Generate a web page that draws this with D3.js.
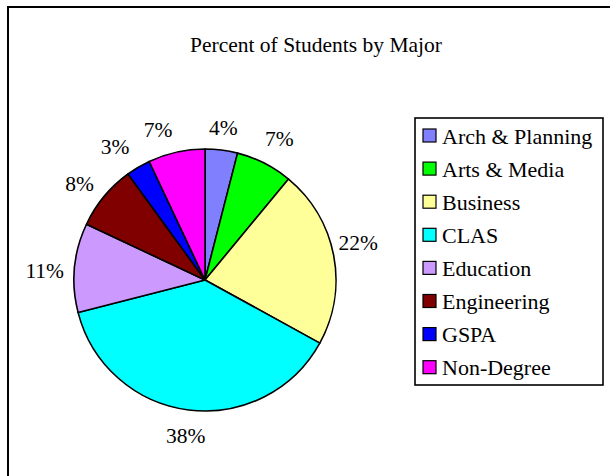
<!DOCTYPE html>
<html>
<head>
<meta charset="utf-8">
<script src="https://cdn.jsdelivr.net/npm/d3@7"></script>
<style>
  html, body { margin: 0; padding: 0; background: #fff; }
  svg { display: block; }
  svg text { font-family: "Liberation Serif", "Times New Roman", "DejaVu Serif", serif !important; }
</style>
</head>
<body>
<script>
const categories = ["Arch & Planning", "Arts & Media", "Business", "CLAS", "Education", "Engineering", "GSPA", "Non-Degree"];
const percents = [4, 7, 22, 38, 11, 8, 3, 7];
const colors = ["#8080FF", "#00FF00", "#FFFF99", "#00FFFF", "#CC99FF", "#800000", "#0000FF", "#FF00FF"];
const title = "Percent of Students by Major";

// layout constants
const W = 610, H = 476;
const cx = 205, cy = 280, R = 131, labelR = 155;
const labelNudge = [[-1, 1], [4, -3], [1, -8], [0, 2], [-6, 5], [-6, 2], [-11, 0], [-13, 1]];
const FONT = "'Liberation Serif', 'Times New Roman', 'DejaVu Serif', serif";

const svg = d3.select("body").append("svg").attr("width", W).attr("height", H);

function styleText(sel, size) {
  return sel.style("font-family", FONT, "important").style("font-size", size + "px").attr("fill", "#000");
}

// chart frame
svg.append("rect").attr("x", 8).attr("y", 7).attr("width", 700).attr("height", 600)
  .attr("fill", "#fff").attr("stroke", "#000").attr("stroke-width", 2);

// title
styleText(svg.append("text").attr("x", 316).attr("y", 52).attr("text-anchor", "middle"), 21.5).text(title);

const data = categories.map((c, i) => ({ name: c, value: percents[i], color: colors[i] }));
const pie = d3.pie().value(d => d.value).sort(null);
const arcs = pie(data);
const arc = d3.arc().innerRadius(0).outerRadius(R);
const labelArc = d3.arc().innerRadius(labelR).outerRadius(labelR);

const g = svg.append("g").attr("transform", `translate(${cx},${cy})`);
g.selectAll("path").data(arcs).join("path")
  .attr("d", arc).attr("fill", d => d.data.color)
  .attr("stroke", "#000").attr("stroke-width", 1.6).attr("stroke-linejoin", "round");

styleText(g.selectAll("text.lbl").data(arcs).join("text").attr("class", "lbl")
  .attr("x", (d, i) => labelArc.centroid(d)[0] + labelNudge[i][0])
  .attr("y", (d, i) => labelArc.centroid(d)[1] + labelNudge[i][1])
  .attr("dy", "0.35em").attr("text-anchor", "middle"), 21.5)
  .text(d => d.data.value + "%");

// legend
const lx = 415, ly = 118, lw = 188, lh = 267, rowH = 33.1, firstRow = 136;
const leg = svg.append("g");
leg.append("rect").attr("x", lx).attr("y", ly).attr("width", lw).attr("height", lh)
  .attr("fill", "#fff").attr("stroke", "#000").attr("stroke-width", 1.6);
const rows = leg.selectAll("g.row").data(data).join("g").attr("class", "row")
  .attr("transform", (d, i) => `translate(0,${firstRow + i * rowH})`);
rows.append("rect").attr("x", 423).attr("y", -7).attr("width", 13).attr("height", 13)
  .attr("fill", d => d.color).attr("stroke", "#000").attr("stroke-width", 1.2);
styleText(rows.append("text").attr("x", 442).attr("y", 0).attr("dy", "0.35em"), 22)
  .text(d => d.name);
</script>
</body>
</html>
